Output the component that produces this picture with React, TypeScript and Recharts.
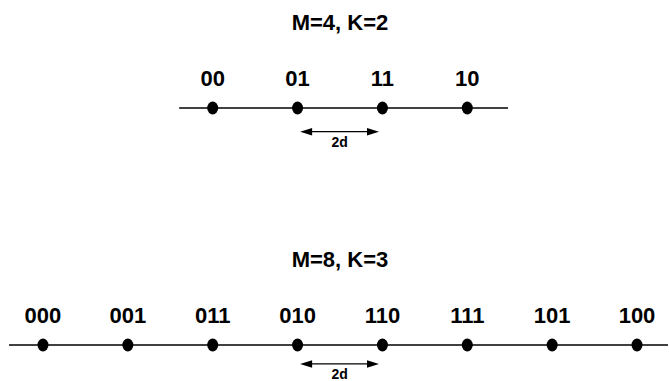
import React from "react";
import { ComposedChart, XAxis, YAxis, Scatter, ReferenceLine } from "recharts";

// Rows of the two constellations (y = row level)
const rowLevels = [1, 0];
const rowTitles = ["M=4, K=2", "M=8, K=3"];

// Top constellation: M=4 (amplitude levels and Gray labels)
const levels4 = [-3, -1, 1, 3];
const labels4 = ["00", "01", "11", "10"];

// Bottom constellation: M=8
const levels8 = [-7, -5, -3, -1, 1, 3, 5, 7];
const labels8 = ["000", "001", "011", "010", "110", "111", "101", "100"];

// Axis line extents for each row
const lineStart = [-3.79, -7.8];
const lineEnd = [3.96, 7.73];

// "2d" distance arrows
const arrowStart = [-0.94, -0.94];
const arrowEnd = [0.92, 0.92];
const arrowLevel = [0.9, -0.08];
const arrowLabel = "2d";

const points = [
  ...levels4.map((x, i) => ({ x, y: rowLevels[0], label: labels4[i] })),
  ...levels8.map((x, i) => ({ x, y: rowLevels[1], label: labels8[i] })),
];
const titles = rowTitles.map((t, i) => ({ x: 0, y: rowLevels[i], title: t }));

const FONT = "'Liberation Sans', Arial, Helvetica, sans-serif";

const PointShape = (props: any) => {
  const { cx, cy, payload } = props;
  return (
    <g>
      <ellipse cx={cx} cy={cy} rx={5.5} ry={6.5} fill="#000" />
      <text
        x={cx}
        y={cy - 22}
        textAnchor="middle"
        fontFamily={FONT}
        fontWeight="bold"
        fontSize={22}
        fill="#000"
      >
        {payload.label}
      </text>
    </g>
  );
};

const TitleShape = (props: any) => {
  const { cx, cy, payload } = props;
  return (
    <text
      x={cx}
      y={cy - 78}
      textAnchor="middle"
      fontFamily={FONT}
      fontWeight="bold"
      fontSize={22}
      fill="#000"
    >
      {payload.title}
    </text>
  );
};

const ArrowShape = (props: any) => {
  const { x1, y1, x2, y2 } = props;
  const L = 12;
  const H = 3.8;
  const left = Math.min(x1, x2);
  const right = Math.max(x1, x2);
  const y = (y1 + y2) / 2;
  return (
    <g>
      <line x1={left + L - 1} y1={y} x2={right - L + 1} y2={y} stroke="#000" strokeWidth={1.3} />
      <polygon points={`${left},${y} ${left + L},${y - H} ${left + L},${y + H}`} fill="#000" />
      <polygon points={`${right},${y} ${right - L},${y - H} ${right - L},${y + H}`} fill="#000" />
      <text
        x={(left + right) / 2}
        y={y + 15}
        textAnchor="middle"
        fontFamily={FONT}
        fontWeight="bold"
        fontSize={14}
        fill="#000"
      >
        {arrowLabel}
      </text>
    </g>
  );
};

export default function App() {
  return (
    <div style={{ position: "absolute", left: 0, top: 0, background: "#fff" }}>
      <ComposedChart
        width={669}
        height={381}
        margin={{ top: 0, right: 0, bottom: 0, left: 0 }}
      >
        <XAxis type="number" dataKey="x" domain={[-8.013, 7.754]} hide allowDataOverflow />
        <YAxis type="number" dataKey="y" domain={[-0.1519, 1.4557]} hide allowDataOverflow />
        {rowLevels.map((r, i) => (
          <ReferenceLine
            key={"line" + i}
            segment={[
              { x: lineStart[i], y: r },
              { x: lineEnd[i], y: r },
            ]}
            stroke="#000"
            strokeWidth={1.3}
            ifOverflow="visible"
          />
        ))}
        {arrowLevel.map((a, i) => (
          <ReferenceLine
            key={"arrow" + i}
            segment={[
              { x: arrowStart[i], y: a },
              { x: arrowEnd[i], y: a },
            ]}
            ifOverflow="visible"
            shape={ArrowShape}
          />
        ))}
        <Scatter data={points} shape={PointShape} isAnimationActive={false} />
        <Scatter data={titles} shape={TitleShape} isAnimationActive={false} />
      </ComposedChart>
    </div>
  );
}
